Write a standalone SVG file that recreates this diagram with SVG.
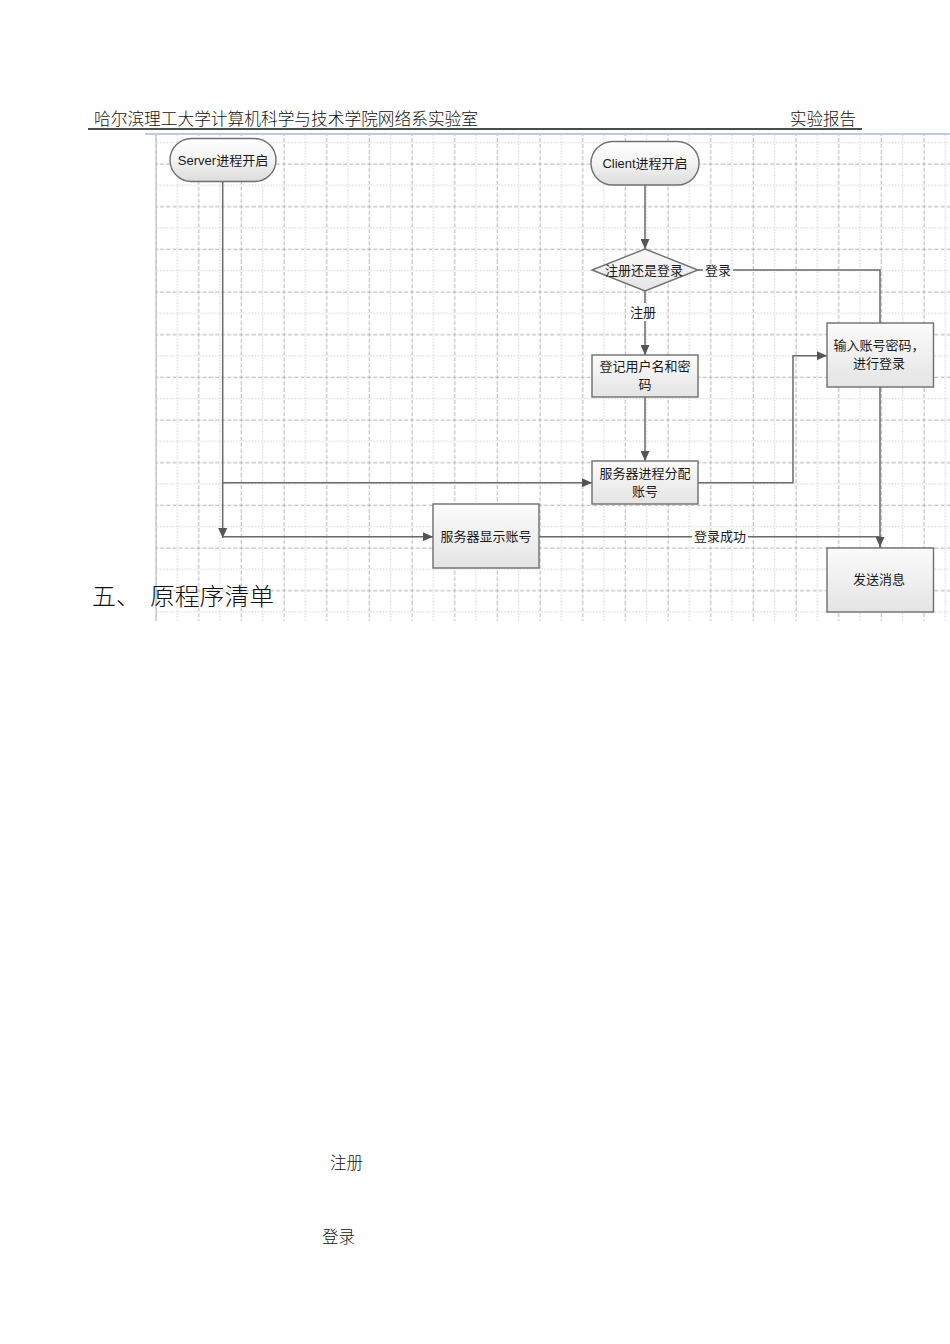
<svg xmlns="http://www.w3.org/2000/svg" width="950" height="1344" viewBox="0 0 950 1344">
<style>
.hdr{font-family:"Liberation Serif","Noto Sans CJK SC",serif;font-size:16.5px;font-weight:300;fill:#111}
.big{font-family:"Liberation Serif","Noto Sans CJK SC",serif;font-size:24px;font-weight:300;fill:#111}
.nt{font-family:"Liberation Sans","Noto Sans CJK SC",sans-serif;font-size:13px;fill:#1a1a1a;text-anchor:middle}
.box{fill:url(#boxg);stroke:#6e6e6e;stroke-width:1.4}
.pill{fill:url(#pillg);stroke:#707070;stroke-width:1.4}
.con{fill:none;stroke:#6a6a6a;stroke-width:1.5}
.arr{fill:none;stroke:#6a6a6a;stroke-width:1.5;marker-end:url(#ah)}
</style>
<defs>
<linearGradient id="boxg" x1="0" y1="0" x2="0" y2="1"><stop offset="0" stop-color="#fbfbfb"/><stop offset="1" stop-color="#e4e4e4"/></linearGradient>
<linearGradient id="pillg" x1="0" y1="0" x2="0" y2="1"><stop offset="0" stop-color="#ffffff"/><stop offset="0.5" stop-color="#f3f3f3"/><stop offset="1" stop-color="#dcdcdc"/></linearGradient>
<marker id="ah" markerUnits="userSpaceOnUse" markerWidth="10" markerHeight="9" refX="10" refY="4.5" orient="auto"><path d="M0,0 L10,4.5 L0,9 z" fill="#555"/></marker>
<pattern id="grid" patternUnits="userSpaceOnUse" x="166.67" y="132" width="42.667" height="42.667">
<line x1="10.67" y1="0" x2="10.67" y2="42.667" stroke="#cfcfcf" stroke-width="1" stroke-dasharray="1.5 1.5"/>
<line x1="0" y1="10.67" x2="42.667" y2="10.67" stroke="#cfcfcf" stroke-width="1" stroke-dasharray="1.5 1.5"/>
<line x1="32" y1="0" x2="32" y2="42.667" stroke="#b2b2b2" stroke-width="1" stroke-dasharray="4 2"/>
<line x1="0" y1="32" x2="42.667" y2="32" stroke="#b2b2b2" stroke-width="1" stroke-dasharray="4 2"/>
</pattern>
</defs>
<rect width="950" height="1344" fill="#fff"/>
<g id="header">
<text class="hdr" x="94" y="124.5" textLength="384" lengthAdjust="spacingAndGlyphs">哈尔滨理工大学计算机科学与技术学院网络系实验室</text>
<text class="hdr" x="790" y="124.5" textLength="66" lengthAdjust="spacingAndGlyphs">实验报告</text>
<line x1="88" y1="129" x2="862" y2="129" stroke="#111" stroke-width="1.5"/>
</g>
<g id="grid-area">
<rect x="156" y="135" width="794" height="486" fill="url(#grid)"/>
<line x1="156" y1="135" x2="156" y2="621" stroke="#bdbdbd" stroke-width="1.2"/>
<line x1="145" y1="134" x2="950" y2="134" stroke="#7d97bf" stroke-width="1.2"/>
</g>
<g id="connectors">
<path class="arr" d="M645,185 V249"/>
<path class="con" d="M698,270 H703"/>
<path class="con" d="M733,270 H880 V323"/>
<path class="con" d="M645,291 V303"/>
<path class="arr" d="M645,321 V355"/>
<path class="arr" d="M645,397 V461"/>
<path class="arr" d="M698,482.7 H793 V355.7 H827"/>
<path class="arr" d="M880,387 V559"/>
<path class="arr" d="M222.7,181 V538"/>
<path class="arr" d="M222.7,482.7 H592"/>
<path class="arr" d="M222.7,536.7 H433"/>
<path class="con" d="M539,536.7 H692"/>
<path class="arr" d="M748,536.7 H880 V547"/>
<text class="nt" x="718" y="274.5">登录</text>
<text class="nt" x="643" y="317">注册</text>
<text class="nt" x="720" y="541">登录成功</text>
</g>
<g id="n-server">
<rect class="pill" x="170" y="138.5" width="106" height="43" rx="21.5" ry="21.5"/>
<text class="nt" x="223" y="164.5">Server进程开启</text>
</g>
<g id="n-client">
<rect class="pill" x="591" y="141.5" width="108" height="43.5" rx="21.7" ry="21.7"/>
<text class="nt" x="645" y="167.5">Client进程开启</text>
</g>
<g id="n-choice">
<polygon points="645,249 698,270 645,291 592,270" fill="url(#boxg)" stroke="#707070" stroke-width="1.4"/>
<text class="nt" x="644" y="274.5">注册还是登录</text>
</g>
<g id="n-register">
<rect class="box" x="592" y="355" width="106" height="42"/>
<text class="nt" x="645" y="370.5">登记用户名和密</text>
<text class="nt" x="645" y="389">码</text>
</g>
<g id="n-assign">
<rect class="box" x="592" y="461" width="106" height="43"/>
<text class="nt" x="645" y="477.5">服务器进程分配</text>
<text class="nt" x="645" y="496">账号</text>
</g>
<g id="n-login">
<rect class="box" x="827" y="323" width="106.5" height="64"/>
<text class="nt" x="879" y="350">输入账号密码，</text>
<text class="nt" x="879" y="368">进行登录</text>
</g>
<g id="n-show">
<rect class="box" x="433" y="504" width="106" height="64"/>
<text class="nt" x="486" y="541">服务器显示账号</text>
</g>
<g id="n-send">
<rect class="box" x="827" y="548" width="106.5" height="64"/>
<text class="nt" x="879" y="584">发送消息</text>
</g>
<g id="body-text">
<text class="big" x="92" y="605">五、</text>
<text class="big" x="150" y="605" textLength="124" lengthAdjust="spacingAndGlyphs">原程序清单</text>
<text class="hdr" x="330" y="1169" font-size="17">注册</text>
<text class="hdr" x="322" y="1243" font-size="17">登录</text>
</g>
</svg>
